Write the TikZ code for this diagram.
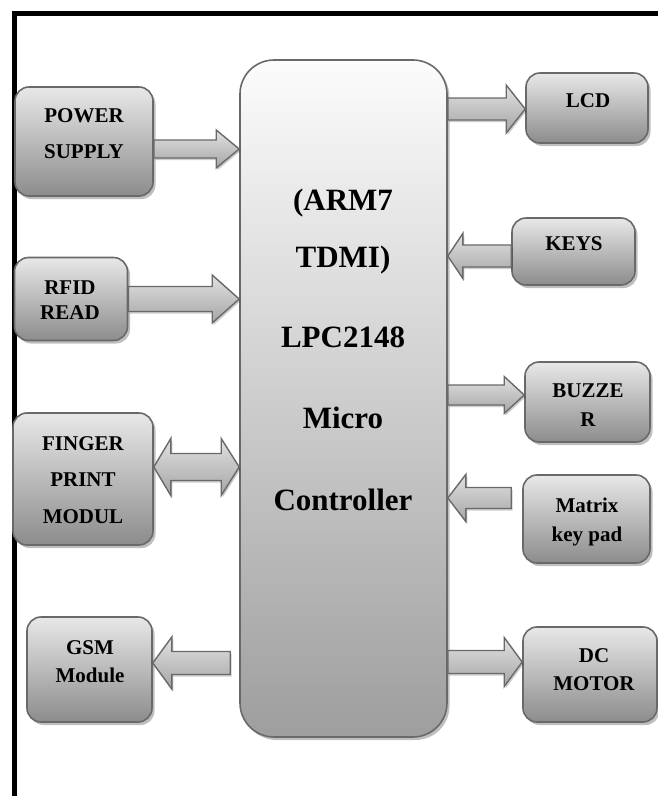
\documentclass[tikz,border=0pt]{standalone}
\usepackage{fontspec}
\setmainfont{Liberation Serif}
\usetikzlibrary{shadows,calc}
\definecolor{bd}{RGB}{105,105,105}
\definecolor{btop}{RGB}{232,232,232}
\definecolor{bbot}{RGB}{140,140,140}
\definecolor{mtop}{RGB}{252,252,252}
\definecolor{mbot}{RGB}{158,158,158}
\definecolor{atop}{RGB}{225,225,225}
\definecolor{amid}{RGB}{245,245,245}
\definecolor{abot}{RGB}{165,165,165}
\tikzset{
  blk/.style={draw=bd, line width=1.6pt, rounded corners=14pt, top color=btop, bottom color=bbot,
    drop shadow={shadow xshift=2.5pt, shadow yshift=-3pt, fill=black, opacity=0.25}},
  mainblk/.style={draw=bd, line width=1.6pt, rounded corners=34pt, top color=mtop, bottom color=mbot,
    drop shadow={shadow xshift=2.5pt, shadow yshift=-3pt, fill=black, opacity=0.25}},
  arr/.style={draw=bd, line width=1.4pt, line join=miter, top color=atop, middle color=amid, bottom color=abot,
    drop shadow={shadow xshift=1.5pt, shadow yshift=-2pt, fill=black, opacity=0.2}},
  btxt/.style={font=\fontsize{21}{25}\selectfont\bfseries, anchor=base, inner sep=0pt},
  mtxt/.style={font=\fontsize{31}{36}\selectfont\bfseries, anchor=base, inner sep=0pt}
}
% #1 tail, #2 tip, #3 body half, #4 head half, #5 signed offset tip->head base
\newcommand\blockarr[5]{%
  \draw[arr] ($(#1)+(0,-#3)$) -- ($(#2)+(#5,-#3)$) -- ($(#2)+(#5,-#4)$) -- (#2)
    -- ($(#2)+(#5,#4)$) -- ($(#2)+(#5,#3)$) -- ($(#1)+(0,#3)$) -- cycle;}
\begin{document}
\begin{tikzpicture}[x=1pt,y=-1pt]
\useasboundingbox (0,0) rectangle (658,796);
\fill[white] (0,0) rectangle (658,796);
\draw[line width=5pt, line join=miter] (14,796) -- (14,13.5) -- (658,13.5);

% nodes (boxes)
\node[mainblk, minimum width=207pt, minimum height=677pt] (mc) at (343.5,398.5) {};
\node[blk, minimum width=138pt, minimum height=109pt] (pw) at (84,141.5) {};
\node[blk, minimum width=113pt, minimum height=83pt] (rf) at (71,299) {};
\node[blk, minimum width=140pt, minimum height=132pt] (fp) at (83,479) {};
\node[blk, minimum width=125pt, minimum height=105pt] (gsm) at (89.5,669.5) {};
\node[blk, minimum width=122pt, minimum height=70pt] (lcd) at (587,108) {};
\node[blk, minimum width=123pt, minimum height=67pt] (keys) at (573.5,251.5) {};
\node[blk, minimum width=125pt, minimum height=80pt] (bz) at (587.5,402) {};
\node[blk, minimum width=127pt, minimum height=88pt] (mk) at (586.5,519) {};
\node[blk, minimum width=134pt, minimum height=95pt] (dc) at (590,674.5) {};

% connectors (block arrows)
\coordinate (pwA) at (pw.east |- 0,149);
\coordinate (pwB) at (mc.west |- 0,149);
\blockarr{pwA}{pwB}{9}{19}{-23}
\coordinate (rfA) at (rf.east |- 0,299);
\coordinate (rfB) at (mc.west |- 0,299);
\blockarr{rfA}{rfB}{12.5}{24}{-27}
\coordinate (fpA) at (fp.east |- 0,467);
\coordinate (fpB) at (mc.west |- 0,467);
\draw[arr] ($(fpA)+(17,-13.5)$) -- ($(fpB)+(-18,-13.5)$) -- ($(fpB)+(-18,-28.5)$) -- (fpB)
  -- ($(fpB)+(-18,28.5)$) -- ($(fpB)+(-18,13.5)$) -- ($(fpA)+(17,13.5)$) -- ($(fpA)+(17,28.5)$)
  -- (fpA) -- ($(fpA)+(17,-28.5)$) -- cycle;
\coordinate (gsA) at ($(mc.west |- 0,663)+(-9,0)$);
\coordinate (gsB) at (gsm.east |- 0,663);
\blockarr{gsA}{gsB}{11.5}{26}{19}
\coordinate (lcA) at (mc.east |- 0,109);
\coordinate (lcB) at (lcd.west |- 0,109);
\blockarr{lcA}{lcB}{11}{24}{-19}
\coordinate (kyA) at (keys.west |- 0,256);
\coordinate (kyB) at (mc.east |- 0,256);
\blockarr{kyA}{kyB}{11}{22.5}{15}
\coordinate (bzA) at (mc.east |- 0,395);
\coordinate (bzB) at (bz.west |- 0,395);
\blockarr{bzA}{bzB}{10}{18.5}{-20}
\coordinate (mkA) at ($(mk.west |- 0,498)+(-11,0)$);
\coordinate (mkB) at (mc.east |- 0,498);
\blockarr{mkA}{mkB}{10.5}{23.5}{18}
\coordinate (dcA) at (mc.east |- 0,662);
\coordinate (dcB) at (dc.west |- 0,662);
\blockarr{dcA}{dcB}{11.5}{24.5}{-18}

% texts
\node[mtxt] (m1) at (343,210) {(ARM7};
\node[mtxt] (m2) at (343,267) {TDMI)};
\node[mtxt] (m3) at (343,347) {LPC2148};
\node[mtxt] (m4) at (343,428) {Micro};
\node[mtxt] (m5) at (343,510) {Controller};

\node[btxt] (pw1) at (84,122) {POWER};
\node[btxt] (pw2) at (84,158) {SUPPLY};
\node[btxt] (rf1) at (70,294) {RFID};
\node[btxt] (rf2) at (70,319) {READ};
\node[btxt] (fp1) at (83,450) {FINGER};
\node[btxt] (fp2) at (83,486) {PRINT};
\node[btxt] (fp3) at (83,523) {MODUL};
\node[btxt] (gs1) at (90,654) {GSM};
\node[btxt] (gs2) at (90,682) {Module};
\node[btxt] (lc1) at (588,107) {LCD};
\node[btxt] (ky1) at (574,250) {KEYS};
\node[btxt] (bz1) at (588,397) {BUZZE};
\node[btxt] (bz2) at (588,426) {R};
\node[btxt] (mk1) at (587,512) {Matrix};
\node[btxt] (mk2) at (587,541) {key pad};
\node[btxt] (dc1) at (594,662) {DC};
\node[btxt] (dc2) at (594,690) {MOTOR};
\end{tikzpicture}
\end{document}
